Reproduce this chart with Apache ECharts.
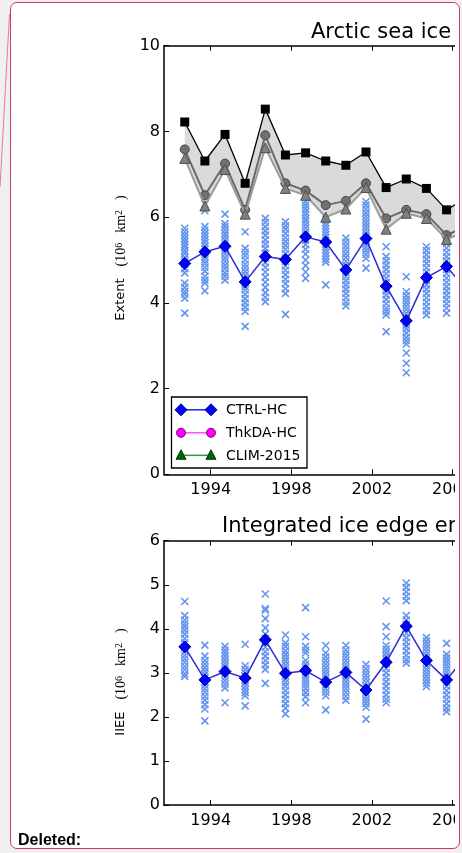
<!DOCTYPE html>
<html><head><meta charset="utf-8">
<script src="https://cdn.jsdelivr.net/npm/echarts@6/dist/echarts.min.js"></script>
<style>
html,body{margin:0;padding:0;background:#f0f0f0;width:462px;height:853px;overflow:hidden;}
#box{position:absolute;left:10px;top:2px;width:448px;height:845px;border:1.5px solid #cc3a5c;border-radius:7px;background:#fff;}
#chart{position:absolute;left:0;top:0;width:455px;height:853px;overflow:hidden;}
</style></head><body><div id="box"></div><div id="chart"></div>
<script>
// ---- data ----
const years = [1992,1993,1994,1995,1996,1997,1998,1999,2000,2001,2002,2003,2004,2005,2006];
const seasonFrac = 0.71; // mid-September
const yearTicks = [1994,1998,2002,2006,2010,2014];
const extentTicks = [0,2,4,6,8,10];
const iieeTicks = [0,1,2,3,4,5,6];

const obsExtent   = [8.22,7.31,7.93,6.79,8.52,7.45,7.50,7.31,7.21,7.52,6.69,6.89,6.67,6.17,6.45];
const thkdaExtent = [7.58,6.51,7.25,6.17,7.91,6.79,6.62,6.28,6.38,6.79,5.97,6.17,6.07,5.58,5.79];
const climExtent  = [7.37,6.26,7.11,6.07,7.62,6.67,6.51,6.00,6.19,6.69,5.72,6.09,5.97,5.48,5.68];
const ctrlExtent  = [4.92,5.19,5.32,4.49,5.08,5.01,5.54,5.42,4.77,5.50,4.39,3.58,4.59,4.85,4.30];
const ctrlIIEE    = [3.59,2.84,3.03,2.88,3.75,2.99,3.05,2.79,3.01,2.61,3.24,4.06,3.28,2.84,3.40];

const extentMembers = [
 [5.74,5.66,5.58,5.50,5.43,5.36,5.30,5.22,5.15,5.06,4.98,4.90,4.80,4.70,4.46,4.36,4.27,4.20,4.11,3.76],
 [6.30,6.15,5.78,5.70,5.62,5.55,5.47,5.40,5.32,5.25,5.17,5.08,5.00,4.92,4.83,4.74,4.62,4.53,4.46,4.28],
 [6.07,5.85,5.78,5.70,5.62,5.55,5.47,5.38,5.30,5.22,5.14,5.05,4.97,4.88,4.80,4.70,4.62,4.53],
 [5.66,5.27,5.18,5.10,5.00,4.90,4.82,4.73,4.65,4.56,4.47,4.38,4.30,4.20,4.10,4.00,3.90,3.80,3.45],
 [5.97,5.88,5.78,5.68,5.58,5.47,5.37,5.27,5.16,5.05,4.94,4.83,4.72,4.60,4.48,4.36,4.24,4.13,4.03],
 [5.89,5.80,5.72,5.62,5.52,5.43,5.34,5.25,5.15,5.05,4.96,4.86,4.76,4.66,4.55,4.45,4.33,4.22,3.73],
 [6.36,6.28,6.20,6.12,6.05,5.97,5.90,5.82,5.74,5.65,5.56,5.46,5.36,5.25,5.14,5.00,4.87,4.72,4.57],
 [5.95,5.87,5.80,5.73,5.66,5.59,5.52,5.45,5.38,5.31,5.24,5.17,5.10,5.02,4.95,4.42],
 [5.51,5.42,5.33,5.24,5.15,5.06,4.97,4.88,4.79,4.70,4.61,4.52,4.42,4.32,4.22,4.12,4.02,3.93],
 [6.36,6.28,6.19,6.10,6.02,5.94,5.86,5.78,5.70,5.62,5.54,5.46,5.38,5.30,5.22,5.13,5.04,4.81],
 [5.31,5.08,4.98,4.88,4.78,4.68,4.58,4.48,4.38,4.28,4.18,4.08,3.98,3.88,3.80,3.72,3.33],
 [4.61,4.26,4.17,4.08,4.00,3.92,3.84,3.75,3.66,3.57,3.48,3.40,3.30,3.20,3.12,3.04,2.83,2.59,2.37],
 [5.31,5.22,5.12,5.02,4.92,4.82,4.72,4.62,4.52,4.42,4.32,4.22,4.12,4.02,3.92,3.82,3.72],
 [5.54,5.47,5.38,5.28,5.18,5.08,4.98,4.88,4.78,4.68,4.58,4.48,4.38,4.28,4.18,4.08,3.98,3.88,3.76]
];
const iieeMembers = [
 [4.62,4.30,4.20,4.12,4.05,3.97,3.88,3.78,3.68,3.58,3.48,3.40,3.32,3.24,3.15,3.07,2.98,2.92],
 [3.63,3.38,3.28,3.20,3.12,3.04,2.96,2.88,2.80,2.72,2.64,2.56,2.47,2.38,2.28,2.18,1.91],
 [3.60,3.52,3.45,3.38,3.30,3.22,3.14,3.06,2.98,2.90,2.82,2.74,2.66,2.32],
 [3.65,3.16,3.08,3.00,2.92,2.85,2.78,2.70,2.62,2.55,2.48,2.25],
 [4.79,4.46,4.42,4.23,4.02,3.88,3.78,3.68,3.58,3.48,3.38,3.28,3.18,3.08,2.76],
 [3.86,3.68,3.60,3.50,3.42,3.34,3.26,3.18,3.10,3.02,2.94,2.86,2.78,2.70,2.60,2.50,2.40,2.30,2.20,2.07],
 [4.48,3.82,3.60,3.52,3.45,3.28,3.20,3.12,3.04,2.96,2.88,2.80,2.72,2.64,2.55,2.46,2.32],
 [3.62,3.45,3.36,3.28,3.20,3.12,3.04,2.96,2.88,2.80,2.72,2.64,2.56,2.48,2.16],
 [3.62,3.52,3.44,3.36,3.28,3.20,3.12,3.04,2.96,2.88,2.80,2.72,2.64,2.56,2.47,2.38],
 [3.19,3.10,3.02,2.94,2.86,2.78,2.70,2.62,2.54,2.46,2.38,2.30,2.22,1.95],
 [4.63,4.05,3.82,3.62,3.54,3.46,3.38,3.30,3.20,3.10,3.00,2.90,2.80,2.70,2.60,2.50,2.40,2.32],
 [5.04,4.94,4.84,4.74,4.64,4.30,4.20,4.10,4.00,3.90,3.80,3.70,3.60,3.50,3.40,3.30,3.22],
 [3.80,3.72,3.64,3.56,3.48,3.40,3.32,3.24,3.16,3.08,3.00,2.92,2.84,2.76,2.69],
 [3.67,3.42,3.34,3.26,3.18,3.10,3.02,2.94,2.86,2.78,2.70,2.60,2.50,2.40,2.30,2.20,2.12]
];

// ---- build ----
const xs = years.map(y => y + seasonFrac);
const pairs = vals => vals.map((v, i) => [xs[i], v]);
const memberPts = m => { const out = []; m.forEach((arr, i) => arr.forEach(v => out.push([xs[i], v]))); return out; };

const F = "'DejaVu Sans', sans-serif";
const xMin = 1991.68, xMax = 2017.5;
const axisLineStyle = {color: '#000', width: 1.5};

function xAx(gi, pos, labels) {
  return {type: 'value', gridIndex: gi, position: pos, min: xMin, max: xMax,
    axisLine: {show: true, onZero: false, lineStyle: axisLineStyle},
    axisTick: {show: true, inside: true, length: 5, customValues: yearTicks, lineStyle: {color: '#000', width: 1}},
    axisLabel: {show: labels, customValues: yearTicks, fontSize: 16, fontFamily: F, color: '#000', margin: 8, formatter: v => String(v)},
    splitLine: {show: false}};
}
function yAx(gi, max, interval) {
  return {type: 'value', gridIndex: gi, min: 0, max: max, interval: interval,
    axisLine: {show: true, onZero: false, lineStyle: axisLineStyle},
    axisTick: {show: true, inside: true, length: 5, lineStyle: {color: '#000', width: 1}},
    axisLabel: {fontSize: 16, fontFamily: F, color: '#000', margin: 4},
    splitLine: {show: false}};
}
const crossSym = 'path://M0,0L10,10M10,0L0,10';
function crosses(gi, data) {
  return {type: 'scatter', xAxisIndex: gi * 2, yAxisIndex: gi, data: data, symbol: crossSym, symbolSize: 7,
    itemStyle: {color: 'rgba(0,0,0,0)', borderColor: '#6495ED', borderWidth: 1.6, opacity: 1}, z: 2, silent: true, animation: false};
}
function ctrlLine(gi, vals) {
  return {type: 'line', name: 'CTRL-HC', xAxisIndex: gi * 2, yAxisIndex: gi, data: pairs(vals), symbol: 'diamond', symbolSize: 12,
    itemStyle: {color: '#0000ff', borderColor: '#00008a', borderWidth: 1}, lineStyle: {color: '#2b2bd6', width: 1.5},
    z: 5, silent: true, animation: false};
}

const chart = echarts.init(document.getElementById('chart'), null, {renderer: 'canvas'});

function legendRow(y, color, lineColor, kind, label) {
  const els = [{type: 'line', shape: {x1: 181, y1: y, x2: 211, y2: y}, style: {stroke: lineColor, lineWidth: 1.5}}];
  [181, 211].forEach(cx => {
    if (kind === 'diamond') els.push({type: 'polygon', shape: {points: [[cx, y - 6], [cx + 6, y], [cx, y + 6], [cx - 6, y]]}, style: {fill: color, stroke: '#00008a', lineWidth: 1}});
    if (kind === 'circle') els.push({type: 'circle', shape: {cx: cx, cy: y, r: 4.5}, style: {fill: color, stroke: '#7a007a', lineWidth: 1}});
    if (kind === 'triangle') els.push({type: 'polygon', shape: {points: [[cx, y - 5.5], [cx + 5, y + 4], [cx - 5, y + 4]]}, style: {fill: color, stroke: '#003a00', lineWidth: 1}});
  });
  els.push({type: 'text', style: {x: 226, y: y + 0.8, text: label, font: '14px ' + F, fill: '#000', align: 'left', verticalAlign: 'middle'}});
  return els;
}

const richLbl = {
  s: {fontFamily: F, fontSize: 13, color: '#000'},
  g: {width: 12, fontSize: 12},
  g2: {width: 10, fontSize: 12},
  m: {fontFamily: "'Liberation Serif', 'DejaVu Serif', serif", fontSize: 14, color: '#000'},
  p: {fontFamily: "'Liberation Serif', 'DejaVu Serif', serif", fontSize: 10, color: '#000', verticalAlign: 'top'}
};

const option = {
  backgroundColor: 'transparent',
  animation: false,
  grid: [
    {left: 164, top: 45.7, width: 520, height: 428.6, outerBoundsMode: 'none', containLabel: false},
    {left: 164, top: 540.7, width: 520, height: 264.3, outerBoundsMode: 'none', containLabel: false}
  ],
  xAxis: [xAx(0, 'bottom', true), xAx(0, 'top', false), xAx(1, 'bottom', true), xAx(1, 'top', false)],
  yAxis: [yAx(0, 10, 2), yAx(1, 6, 1)],
  series: [
    {type: 'custom', xAxisIndex: 0, yAxisIndex: 0, data: [[xs[0], obsExtent[0]]], silent: true, z: 1,
     renderItem: function (params, api) {
       if (params.dataIndex !== 0) return;
       const pts = [];
       for (let i = 0; i < xs.length; i++) pts.push(api.coord([xs[i], obsExtent[i]]));
       for (let i = xs.length - 1; i >= 0; i--) pts.push(api.coord([xs[i], Math.min(climExtent[i], thkdaExtent[i])]));
       return {type: 'polygon', shape: {points: pts}, style: {fill: '#dadada'}};
     }},
    crosses(0, memberPts(extentMembers)),
    {type: 'line', name: 'Obs', xAxisIndex: 0, yAxisIndex: 0, data: pairs(obsExtent), symbol: 'rect', symbolSize: 9,
     itemStyle: {color: '#000'}, lineStyle: {color: '#000', width: 1.3}, z: 3, silent: true},
    {type: 'line', name: 'ThkDA-HC', xAxisIndex: 0, yAxisIndex: 0, data: pairs(thkdaExtent), symbol: 'circle', symbolSize: 9,
     itemStyle: {color: '#717171', borderColor: '#444', borderWidth: 1}, lineStyle: {color: '#6a6a6a', width: 2}, z: 3, silent: true},
    {type: 'line', name: 'CLIM-2015', xAxisIndex: 0, yAxisIndex: 0, data: pairs(climExtent), symbol: 'triangle', symbolSize: 10,
     itemStyle: {color: '#808080', borderColor: '#4e4e4e', borderWidth: 1}, lineStyle: {color: '#9c9c9c', width: 2}, z: 4, silent: true},
    ctrlLine(0, ctrlExtent),
    crosses(1, memberPts(iieeMembers)),
    ctrlLine(1, ctrlIIEE)
  ],
  graphic: [
    {type: 'line', shape: {x1: 9.5, y1: 14, x2: 0, y2: 187}, style: {stroke: '#e07c96', lineWidth: 1}, z: 10},
    {type: 'text', style: {x: 311, y: 33, text: 'Arctic sea ice extent', font: '21px ' + F, fill: '#000', align: 'left', verticalAlign: 'middle'}, z: 10},
    {type: 'text', style: {x: 222, y: 527, text: 'Integrated ice edge error', font: '21px ' + F, fill: '#000', align: 'left', verticalAlign: 'middle'}, z: 10},
    {type: 'text', x: 121, y: 258, rotation: Math.PI / 2,
     style: {text: '{s|Extent}{g| }{m|(10}{p|6}{g2| }{m|km}{p|2}{g2| }{m|)}', rich: richLbl, align: 'center', verticalAlign: 'middle'}, z: 10},
    {type: 'text', x: 121, y: 682, rotation: Math.PI / 2,
     style: {text: '{s|IIEE}{g| }{m|(10}{p|6}{g2| }{m|km}{p|2}{g2| }{m|)}', rich: richLbl, align: 'center', verticalAlign: 'middle'}, z: 10},
    {type: 'group', z: 20, children: [
      {type: 'rect', shape: {x: 171.5, y: 397, width: 135.5, height: 71}, style: {fill: '#fff', stroke: '#000', lineWidth: 1.3}},
      ...legendRow(409.8, '#0000ff', '#2323e0', 'diamond', 'CTRL-HC'),
      ...legendRow(432.8, '#ff00ff', '#ff4cff', 'circle', 'ThkDA-HC'),
      ...legendRow(455.3, '#006400', '#3a9a3a', 'triangle', 'CLIM-2015')
    ]},
    {type: 'text', style: {x: 18, y: 841, text: 'Deleted:', font: 'bold 16px "Liberation Sans", Arial, sans-serif', fill: '#000', align: 'left', verticalAlign: 'middle'}, z: 10}
  ]
};
chart.setOption(option);
</script></body></html>
